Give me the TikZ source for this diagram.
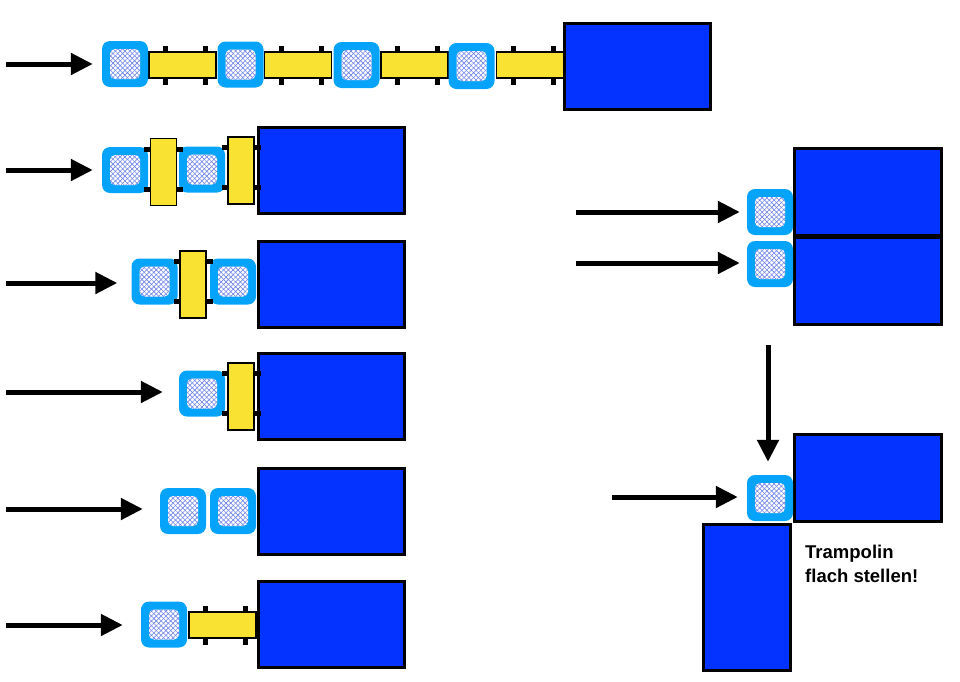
\documentclass[tikz,border=0pt]{standalone}
\usepackage{fontspec}
\setmainfont{Liberation Sans}
\usepackage{tikz}
\usetikzlibrary{arrows.meta,patterns.meta}
\usepackage{xcolor}

\definecolor{mblau}{RGB}{4,51,255}
\definecolor{wblau}{RGB}{5,164,250}
\definecolor{gelb}{RGB}{250,226,50}
\definecolor{gitter}{RGB}{110,132,235}

\tikzset{
  trampo/.pic={
    \fill (-19.5,-19.5) rectangle (-14.5,19.5);
    \fill (20.5,-19.5) rectangle (25.5,19.5);
    \filldraw[fill=gelb, line width=1.5pt] (-33.5,-13) rectangle (33.5,13);
  }
}

\begin{document}
\begin{tikzpicture}[x=1pt, y=-1pt,
  wuerfel/.style = { fill=wblau, rounded corners=8pt, minimum size=46pt, inner sep=0pt,
	path picture={
	  \fill[white, rounded corners=5pt]
		([shift={(-15pt,-15pt)}]path picture bounding box.center) rectangle
		([shift={(15pt,15pt)}]path picture bounding box.center);
	  \fill[pattern={Lines[angle=45,distance=3.4pt,line width=0.6pt]}, pattern color=gitter, rounded corners=5pt]
		([shift={(-15pt,-15pt)}]path picture bounding box.center) rectangle
		([shift={(15pt,15pt)}]path picture bounding box.center);
	  \fill[pattern={Lines[angle=-45,distance=3.4pt,line width=0.6pt]}, pattern color=gitter, rounded corners=5pt]
		([shift={(-15pt,-15pt)}]path picture bounding box.center) rectangle
		([shift={(15pt,15pt)}]path picture bounding box.center);
	}},
  matte/.style = { draw=black, line width=3pt, fill=mblau, inner sep=0pt,
	minimum width=146pt, minimum height=86pt},
  hochmatte/.style = { matte, minimum width=87pt, minimum height=146pt},
  pfeil/.style = { line width=5pt, -{Triangle[length=22pt,width=21pt]}},
  hinweis/.style = { font=\bfseries\fontsize{18.5}{24}\selectfont, align=left,
	inner sep=0pt, anchor=north west}]

\useasboundingbox (0,0) rectangle (960,681);

% erste Reihe: lange Kette
\node[matte] (m1) at (637.5,66) {};
\pic at (182.5,65) {trampo};
\pic at (298,65) {trampo};
\pic at (414.5,65) {trampo};
\pic at (530,65) {trampo};
\node[wuerfel] (w11) at (125,64) {};
\node[wuerfel] (w12) at (240.5,64.5) {};
\node[wuerfel] (w13) at (356.5,65) {};
\node[wuerfel] (w14) at (471.5,66) {};

% zweite Reihe
\node[matte] (m2) at (331.5,170.5) {};
\node[wuerfel] (w21) at (125,170) {};
\node[wuerfel] (w22) at (202,169.5) {};
\pic[rotate=90] at (163.5,172) {trampo};
\pic[rotate=90] at (241,170.5) {trampo};

% dritte Reihe
\node[matte] (m3) at (331.5,284.5) {};
\node[wuerfel] (w31) at (154.5,281.5) {};
\node[wuerfel] (w32) at (233,281.5) {};
\pic[rotate=90] at (193,284.5) {trampo};

% vierte Reihe
\node[matte] (m4) at (331.5,396.5) {};
\node[wuerfel] (w41) at (202,393.5) {};
\pic[rotate=90] at (241,396.5) {trampo};

% fuenfte Reihe
\node[matte] (m5) at (331.5,511) {};
\node[wuerfel] (w51) at (183,511) {};
\node[wuerfel] (w52) at (233,511) {};

% sechste Reihe
\node[matte] (m6) at (331.5,624.5) {};
\pic at (222.5,625) {trampo};
\node[wuerfel] (w61) at (164,624.5) {};

% rechts oben
\node[matte, minimum width=147pt, minimum height=87pt] (m71) at (868,192) {};
\node[matte, minimum width=147pt, minimum height=87pt] (m72) at (868,281) {};
\node[wuerfel] (w71) at (770,212) {};
\node[wuerfel] (w72) at (770,264) {};

% rechts unten
\node[matte, minimum width=147pt, minimum height=87pt] (m81) at (868,478) {};
\node[hochmatte] (m82) at (747,597.5) {};
\node[wuerfel] (w81) at (770,498) {};
\node[hinweis] (txt) at (805,545) {Trampolin\\flach stellen!};

% Pfeile
\coordinate (p1) at (6,64);
\coordinate (p2) at (6,170);
\coordinate (p3) at (6,283);
\coordinate (p4) at (6,392);
\coordinate (p5) at (6,509);
\coordinate (p6) at (6,625);
\coordinate (p71) at (576,212);
\coordinate (p72) at (576,263);
\coordinate (p8) at (612,497);
\coordinate (pd) at (768,345);

\draw[pfeil, shorten >=9pt] (p1) -- (p1 -| w11.west);
\draw[pfeil, shorten >=9pt] (p2) -- (p2 -| w21.west);
\draw[pfeil, shorten >=14pt] (p3) -- (p3 -| w31.west);
\draw[pfeil, shorten >=16pt] (p4) -- (p4 -| w41.west);
\draw[pfeil, shorten >=17pt] (p5) -- (p5 -| w51.west);
\draw[pfeil, shorten >=18pt] (p6) -- (p6 -| w61.west);
\draw[pfeil, shorten >=7pt] (p71) -- (p71 -| w71.west);
\draw[pfeil, shorten >=7pt] (p72) -- (p72 -| w72.west);
\draw[pfeil, shorten >=9pt] (p8) -- (p8 -| w81.west);
\draw[pfeil, shorten >=13pt] (pd) -- (pd |- w81.north);
\end{tikzpicture}
\end{document}
